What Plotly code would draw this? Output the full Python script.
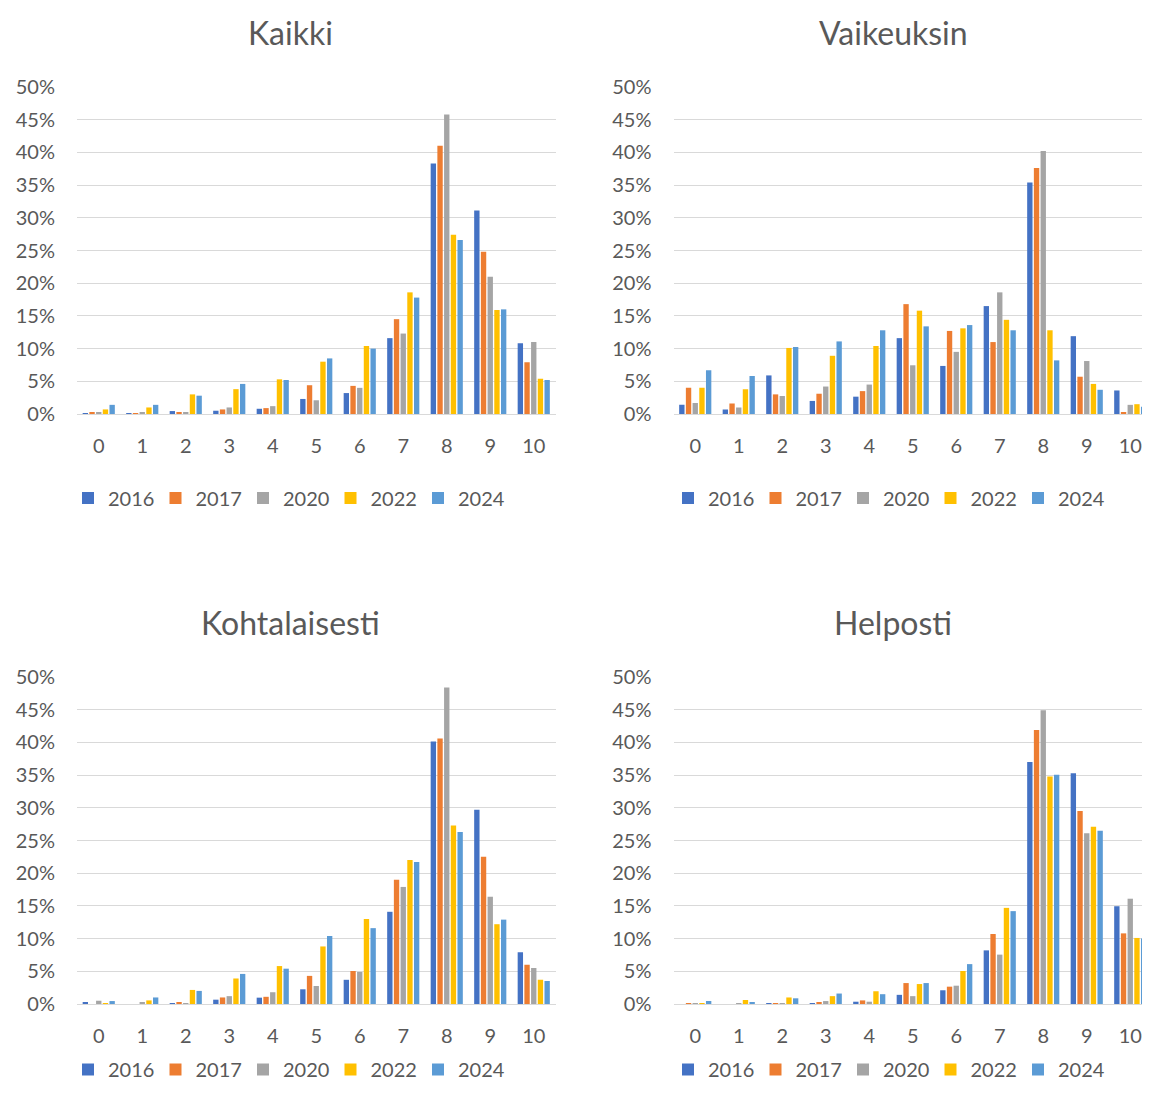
import plotly.graph_objects as go

categories = ["0", "1", "2", "3", "4", "5", "6", "7", "8", "9", "10"]
years = ["2016", "2017", "2020", "2022", "2024"]
colors = ["#4472C4", "#ED7D31", "#A5A5A5", "#FFC000", "#5B9BD5"]

# Values in percent, per panel, per year
kaikki_2016 = [0.15, 0.05, 0.45, 0.5, 0.8, 2.3, 3.2, 11.6, 38.3, 31.1, 10.8]
kaikki_2017 = [0.25, 0.1, 0.3, 0.7, 0.9, 4.4, 4.3, 14.5, 41.0, 24.8, 7.9]
kaikki_2020 = [0.3, 0.3, 0.25, 1.0, 1.2, 2.1, 4.0, 12.3, 45.8, 21.0, 11.0]
kaikki_2022 = [0.7, 1.0, 3.0, 3.8, 5.3, 8.0, 10.4, 18.6, 27.4, 15.9, 5.4]
kaikki_2024 = [1.4, 1.4, 2.8, 4.6, 5.2, 8.5, 10.0, 17.8, 26.6, 16.0, 5.2]

vaik_2016 = [1.4, 0.7, 5.9, 2.0, 2.65, 11.6, 7.35, 16.5, 35.4, 11.9, 3.6]
vaik_2017 = [4.0, 1.6, 3.0, 3.1, 3.5, 16.8, 12.7, 11.0, 37.6, 5.7, 0.3]
vaik_2020 = [1.7, 1.0, 2.75, 4.2, 4.5, 7.45, 9.5, 18.6, 40.2, 8.1, 1.4]
vaik_2022 = [4.0, 3.8, 10.1, 8.9, 10.4, 15.8, 13.1, 14.4, 12.8, 4.6, 1.5]
vaik_2024 = [6.7, 5.8, 10.25, 11.1, 12.8, 13.4, 13.6, 12.8, 8.2, 3.7, 1.1]

koht_2016 = [0.25, 0.0, 0.1, 0.66, 0.97, 2.25, 3.7, 14.1, 40.15, 29.7, 7.9]
koht_2017 = [0.0, 0.0, 0.3, 1.0, 1.1, 4.3, 5.05, 19.0, 40.6, 22.5, 6.0]
koht_2020 = [0.5, 0.2, 0.15, 1.2, 1.8, 2.75, 4.9, 17.9, 48.4, 16.4, 5.5]
koht_2022 = [0.15, 0.55, 2.15, 3.9, 5.8, 8.8, 13.0, 22.0, 27.3, 12.2, 3.7]
koht_2024 = [0.45, 1.0, 2.0, 4.6, 5.4, 10.4, 11.6, 21.7, 26.3, 12.9, 3.5]

help_2016 = [0.0, 0.0, 0.1, 0.15, 0.35, 1.4, 2.1, 8.2, 37.0, 35.3, 14.95]
help_2017 = [0.1, 0.0, 0.1, 0.2, 0.55, 3.2, 2.65, 10.7, 41.9, 29.5, 10.8]
help_2020 = [0.05, 0.15, 0.05, 0.45, 0.35, 1.2, 2.8, 7.55, 44.9, 26.1, 16.1]
help_2022 = [0.05, 0.6, 1.0, 1.2, 1.95, 3.05, 5.05, 14.7, 34.8, 27.1, 10.1]
help_2024 = [0.45, 0.25, 0.87, 1.6, 1.5, 3.2, 6.1, 14.2, 35.05, 26.5, 10.0]

titles = ["Kaikki", "Vaikeuksin", "Kohtalaisesti", "Helposti"]
panels = [
    [kaikki_2016, kaikki_2017, kaikki_2020, kaikki_2022, kaikki_2024],
    [vaik_2016, vaik_2017, vaik_2020, vaik_2022, vaik_2024],
    [koht_2016, koht_2017, koht_2020, koht_2022, koht_2024],
    [help_2016, help_2017, help_2020, help_2022, help_2024],
]

# the page body keeps its default 8px margin on every side, so the figure is
# sized to fill the window exactly inside it (no scrolling)
OFF = 8
WIN_W, WIN_H = 1150, 1097
W, H = WIN_W - 2 * OFF, WIN_H - 2 * OFF
FONT = "Lato"
TXT = "#595959"
GRID = "#D9D9D9"


def px(x):
    return (x - OFF) / W


def py(y):
    return (H - (y - OFF)) / H


# panel geometry in window pixels: (x0, x1, ytop, ybottom)
cat_w = 43.5
RX = 673.5  # right-hand panels start (slightly left so "10" stays readable)
geo = [
    (77, 77 + 11 * cat_w, 87, 414),
    (RX, WIN_W - OFF, 87, 414),
    (77, 77 + 11 * cat_w, 677, 1004),
    (RX, WIN_W - OFF, 677, 1004),
]
title_pos = [(290, 33), (893, 33), (290, 623), (893, 623)]
# (x, y, yanchor); bottom legends are kept inside the figure so they do not
# push the margins
legend_pos = [(68, 498, "middle"), (668, 498, "middle"),
              (68, None, "bottom"), (668, None, "bottom")]

fig = go.Figure()
layout = dict(
    template="none",
    width=W, height=H,
    margin=dict(l=0, r=0, t=0, b=0, pad=0),
    paper_bgcolor="white", plot_bgcolor="white",
    barmode="group", bargap=0.23, bargroupgap=0.2,
    font=dict(family=FONT, color=TXT, size=20),
    annotations=[],
)

for i, (title, series) in enumerate(zip(titles, panels)):
    suf = "" if i == 0 else str(i + 1)
    leg = "legend" if i == 0 else "legend" + str(i + 1)
    for y, col, vals in zip(years, colors, series):
        fig.add_trace(go.Bar(
            x=categories, y=vals, name=y,
            marker=dict(color=col, line=dict(width=0)),
            xaxis="x" + suf, yaxis="y" + suf,
            legend=leg, showlegend=True,
            hovertemplate="%{x}: %{y}%<extra>" + y + "</extra>",
        ))
    x0, x1, yt, yb = geo[i]
    rng_hi = -0.5 + (x1 - x0) / cat_w
    layout["xaxis" + suf] = dict(
        domain=[px(x0), min(1.0, px(x1))], anchor="y" + suf,
        type="category", range=[-0.5, rng_hi], automargin=False,
        showgrid=False, showline=True, linecolor=GRID, linewidth=1,
        ticks="", tickfont=dict(size=20, color=TXT, family=FONT),
        ticklabelstandoff=14, fixedrange=True,
    )
    layout["yaxis" + suf] = dict(
        domain=[py(yb), py(yt)], anchor="x" + suf,
        range=[0, 50], dtick=5, ticksuffix="%", automargin=False,
        showgrid=True, gridcolor=GRID, gridwidth=1.3,
        zeroline=False, showline=False, ticks="",
        tickfont=dict(size=20, color=TXT, family=FONT),
        ticklabelstandoff=21, fixedrange=True,
    )
    lx, ly, yanc = legend_pos[i]
    layout[leg] = dict(
        orientation="h", x=px(lx), y=(py(ly) if ly is not None else 0.0),
        xanchor="left", yanchor=yanc,
        font=dict(size=20, color=TXT, family=FONT),
        itemwidth=30, entrywidth=42.5, entrywidthmode="pixels",
        bgcolor="rgba(0,0,0,0)", borderwidth=0, traceorder="normal",
    )
    tx, ty = title_pos[i]
    layout["annotations"].append(dict(
        text=title, x=px(tx), y=py(ty), xref="paper", yref="paper",
        xanchor="center", yanchor="middle", showarrow=False,
        font=dict(size=32, color=TXT, family=FONT),
    ))

fig.update_layout(**layout)
fig.write_html("out.html")
